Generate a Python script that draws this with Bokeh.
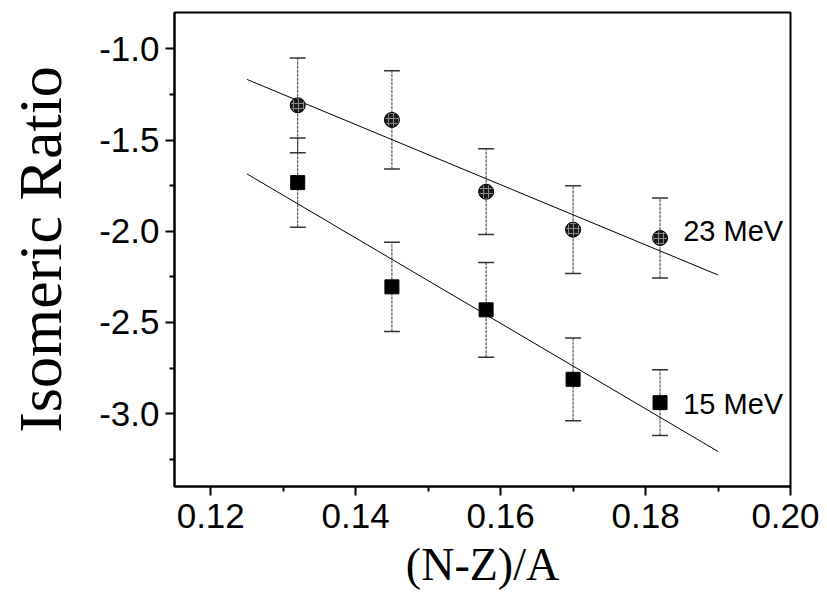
import numpy as np
from bokeh.plotting import figure
from bokeh.models import (ColumnDataSource, Whisker, TeeHead, FixedTicker,
                          PrintfTickFormatter, Label)
from bokeh.embed import file_html
from bokeh.resources import INLINE

# ---- data ----
nz_a = [0.132, 0.145, 0.158, 0.170, 0.182]
ratio_23 = [-1.309, -1.389, -1.783, -1.991, -2.037]
err_23 = [0.26, 0.27, 0.235, 0.24, 0.22]
ratio_15 = [-1.733, -2.305, -2.431, -2.812, -2.940]
err_15 = [0.245, 0.245, 0.26, 0.227, 0.18]
fit_x = [0.125, 0.19]
x_ticks = [0.12, 0.14, 0.16, 0.18, 0.20]
x_minor = [0.11, 0.13, 0.15, 0.17, 0.19]
y_ticks = [-3.0, -2.5, -2.0, -1.5, -1.0]
y_minor = [-3.25, -2.75, -2.25, -1.75, -1.25, -0.75]

p = figure(frame_width=616, frame_height=474,
           x_range=(0.115, 0.20), y_range=(-3.4, -0.8),
           output_backend="svg", toolbar_location=None,
           min_border_left=174, min_border_right=29,
           min_border_top=12, min_border_bottom=106,
           background_fill_color="white", border_fill_color="white")
p.grid.visible = False
p.outline_line_color = "black"
p.outline_line_width = 2

def src(x, y, e):
    return ColumnDataSource(dict(x=x, y=y,
                                 upper=[a + b for a, b in zip(y, e)],
                                 lower=[a - b for a, b in zip(y, e)]))

s23 = src(nz_a, ratio_23, err_23)
s15 = src(nz_a, ratio_15, err_15)

# fit lines (unweighted linear least squares)
for ys in (ratio_23, ratio_15):
    k, b = np.polyfit(nz_a, ys, 1)
    p.line(fit_x, [k * v + b for v in fit_x], line_color="black", line_width=1)

for s in (s23, s15):
    w = Whisker(source=s, base="x", upper="upper", lower="lower",
                dimension="height", line_color="#333333", line_width=1,
                line_dash="3 1",
                upper_head=TeeHead(size=16, line_color="#333333", line_width=1.5),
                lower_head=TeeHead(size=16, line_color="#333333", line_width=1.5))
    w.level = "underlay"
    p.add_layout(w)

p.scatter("x", "y", source=s23, marker="circle", size=15,
          fill_color="#1a1a1a", line_color="black",
          hatch_pattern="+", hatch_color="#8a8a8a", hatch_scale=5, hatch_weight=1)
p.scatter("x", "y", source=s15, marker="square", size=14,
          fill_color="black", line_color="black")

p.add_layout(Label(x=0.1852, y=-2.0, text="23 MeV", text_font="Liberation Sans",
                   text_font_size="29px", text_baseline="middle", text_color="black"))
p.add_layout(Label(x=0.1852, y=-2.947, text="15 MeV", text_font="Liberation Sans",
                   text_font_size="29px", text_baseline="middle", text_color="black"))

p.xaxis.ticker = FixedTicker(ticks=x_ticks, minor_ticks=x_minor)
p.yaxis.ticker = FixedTicker(ticks=y_ticks, minor_ticks=y_minor)
p.xaxis.formatter = PrintfTickFormatter(format="%.2f")
p.yaxis.formatter = PrintfTickFormatter(format="%.1f")

for ax in (p.xaxis, p.yaxis):
    ax.axis_line_width = 2
    ax.axis_line_color = "black"
    ax.major_tick_line_width = 2
    ax.minor_tick_line_width = 2
    ax.major_tick_out = 9
    ax.major_tick_in = 0
    ax.minor_tick_out = 5
    ax.minor_tick_in = 0
    ax.major_label_text_font = "Liberation Sans"
    ax.major_label_text_font_size = "35px"
    ax.major_label_text_color = "black"
    ax.axis_label_text_font = "Liberation Serif"
    ax.axis_label_text_font_style = "normal"
    ax.axis_label_text_color = "black"

p.xaxis.axis_label = "(N-Z)/A"
p.xaxis.axis_label_text_font_size = "46px"
p.xaxis.major_label_standoff = 8
p.xaxis.axis_label_standoff = 8

p.yaxis.axis_label = "Isomeric Ratio"
p.yaxis.axis_label_text_font_size = "62px"
p.yaxis.major_label_standoff = 6
p.yaxis.axis_label_standoff = 22

open("out.html", "w").write(file_html(p, INLINE))
